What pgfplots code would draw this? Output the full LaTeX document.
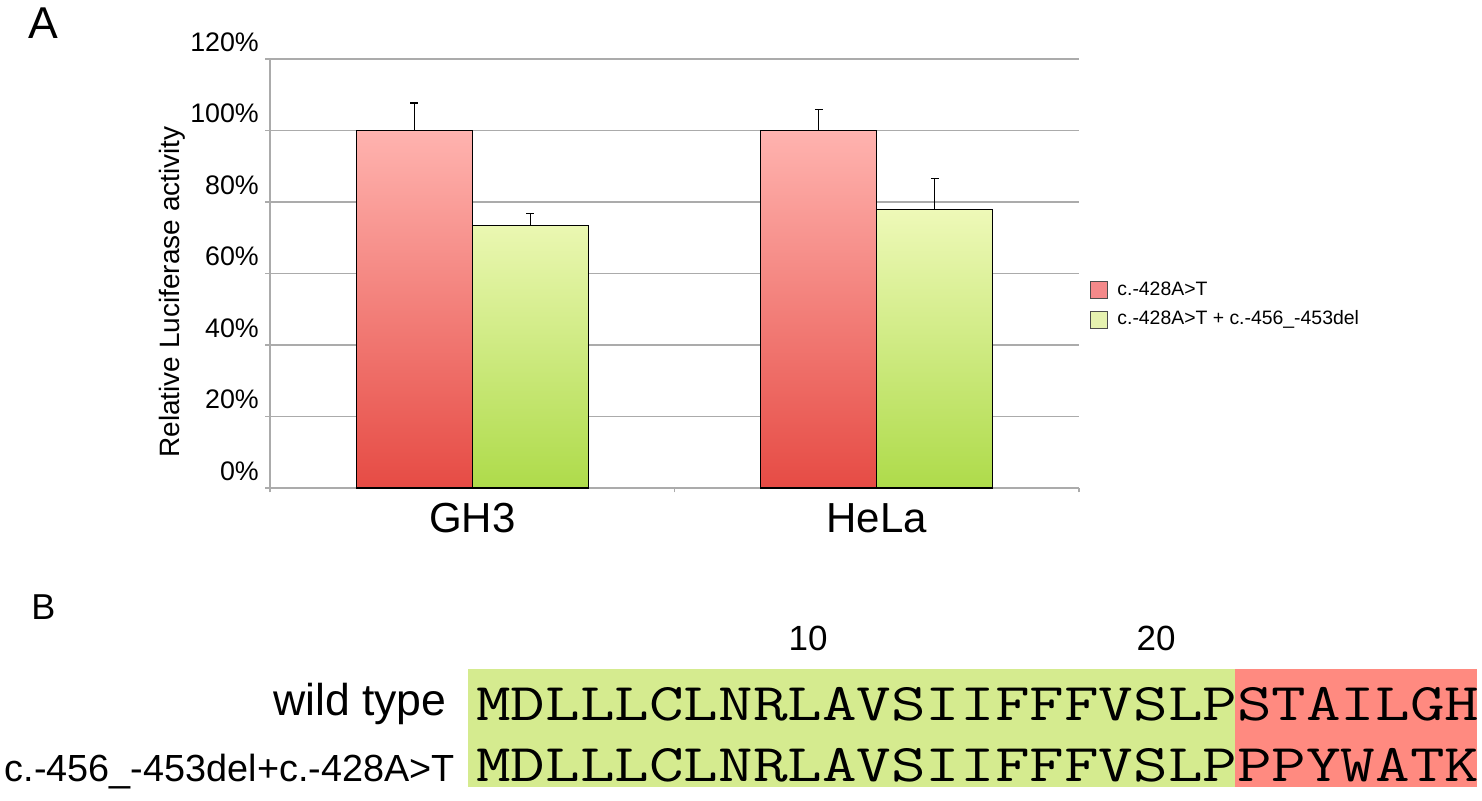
\documentclass[border=0pt]{standalone}
\usepackage{pgfplots}
\pgfplotsset{compat=1.18}
\usepackage{graphicx}
\usepackage{fontspec}
\setmainfont{Liberation Sans}

\definecolor{redtop}{HTML}{FFB3AF}
\definecolor{redbot}{HTML}{E64B44}
\definecolor{grntop}{HTML}{EEF9B8}
\definecolor{grnbot}{HTML}{AEDB4A}
\definecolor{legred}{HTML}{F4898A}
\definecolor{leggrn}{HTML}{E6F2B0}
\definecolor{seqgrn}{HTML}{D5EB8F}
\definecolor{seqred}{HTML}{FF8A80}
\definecolor{gridgray}{HTML}{ABABAB}

% sequence text: typewriter face widened to Courier-like proportions
\newcommand{\seq}[1]{\scalebox{1.267}[1]{\ttfamily\fontsize{26.5}{28}\selectfont #1}}

\begin{document}
\begin{tikzpicture}
\path[use as bounding box] (0pt,0pt) rectangle (741pt,-400pt);

% panel A: bar chart
\begin{axis}[
    at={(135pt,-244pt)}, anchor=south west,
    width=404.5pt, height=214.5pt, scale only axis,
    xmin=-0.5, xmax=1.5, ymin=0, ymax=120,
    enlargelimits=false,
    axis x line*=bottom, axis y line*=left,
    axis line style={gridgray, line width=0.6pt},
    tick align=outside,
    xtick={0,1}, xticklabels={GH3,HeLa},
    major x tick style={draw=none},
    minor xtick={-0.5,0.5,1.5},
    minor x tick style={gridgray, line width=0.6pt},
    minor tick length=2.2pt,
    ytick={0,20,...,120},
    major tick length=2.4pt,
    y tick style={gridgray, line width=0.6pt},
    ymajorgrids,
    grid style={gridgray, line width=0.6pt},
    /pgf/number format/assume math mode=true,
    yticklabel={\pgfmathprintnumber{\tick}\%},
    yticklabel style={font=\fontsize{13.4}{15}\selectfont, yshift=8.5pt, inner sep=0pt, xshift=-3pt},
    xticklabel style={font=\fontsize{21}{24}\selectfont, inner sep=0pt, yshift=-5pt},
    every axis y label/.style={at={(axis description cs:-0.121,0.457)}, rotate=90,
        anchor=center, font=\fontsize{14}{16}\selectfont},
    ylabel={Relative Luciferase activity},
    legend style={at={(axis description cs:1.0136,0.487)}, anchor=north west,
        draw=none, fill=none, font=\fontsize{9.7}{11}\selectfont,
        row sep=3.6pt, inner sep=0pt,
        nodes={inner sep=1pt, text height=7pt, text depth=2pt},
        /tikz/every odd column/.append style={column sep=3.5pt}},
    legend cell align=left,
    legend image code/.code={\draw[#1] (0pt,-4.25pt) rectangle (8.5pt,4.25pt);},
]
% bars
\addplot[ybar, bar width=0.2868, bar shift=-0.1434, draw=black, line width=0.6pt,
    top color=redtop, bottom color=redbot, forget plot]
    coordinates {(0,100) (1,100)};
\addplot[ybar, bar width=0.2868, bar shift=0.1434, draw=black, line width=0.6pt,
    top color=grntop, bottom color=grnbot, forget plot]
    coordinates {(0,73.4) (1,78.0)};
% error bars (upper only)
\addplot[draw=none, mark=none, forget plot,
    error bars/.cd, y dir=plus, y explicit,
    error bar style={draw=black, line width=0.6pt},
    error mark options={rotate=90, draw=black, mark size=2pt, line width=0.6pt}]
    coordinates {(-0.1434,100) +- (0,7.7) (0.8566,100) +- (0,5.8)
                 (0.1434,73.4) +- (0,3.4) (1.1434,78.0) +- (0,8.5)};
\addlegendimage{fill=legred, draw=black!70, line width=0.5pt}
\addlegendimage{fill=leggrn, draw=black!70, line width=0.5pt}
\legend{c.-428A>T, c.-428A>T + c.-456\_-453del}
\end{axis}

% panel labels and panel B
\begin{scope}[x=0.5pt, y=-0.5pt]
\node[anchor=base west, inner sep=0pt, font=\fontsize{22.3}{24}\selectfont] at (28,38) {A};
\node[anchor=base west, inner sep=0pt, font=\fontsize{18}{20}\selectfont] at (31,619) {B};

\fill[seqgrn] (468,669) rectangle (1235,787);
\fill[seqred] (1235,669) rectangle (1477,787);

\node[anchor=base, inner sep=0pt, font=\fontsize{17.5}{19}\selectfont] at (808,650) {10};
\node[anchor=base, inner sep=0pt, font=\fontsize{17.5}{19}\selectfont] at (1156,650) {20};

\node[anchor=base east, inner sep=0pt, font=\fontsize{22.3}{24}\selectfont] at (447,715) {wild type};
\node[anchor=base east, inner sep=0pt, font=\fontsize{18.9}{21}\selectfont] at (455,781) {c.-456\_-453del+c.-428A>T};

\node[anchor=base west, inner sep=0pt] at (476,720) {\seq{MDLLLCLNRLAVSIIFFFVSLPSTAILGH}};
\node[anchor=base west, inner sep=0pt] at (476,781) {\seq{MDLLLCLNRLAVSIIFFFVSLPPPYWATK}};
\end{scope}
\end{tikzpicture}
\end{document}
